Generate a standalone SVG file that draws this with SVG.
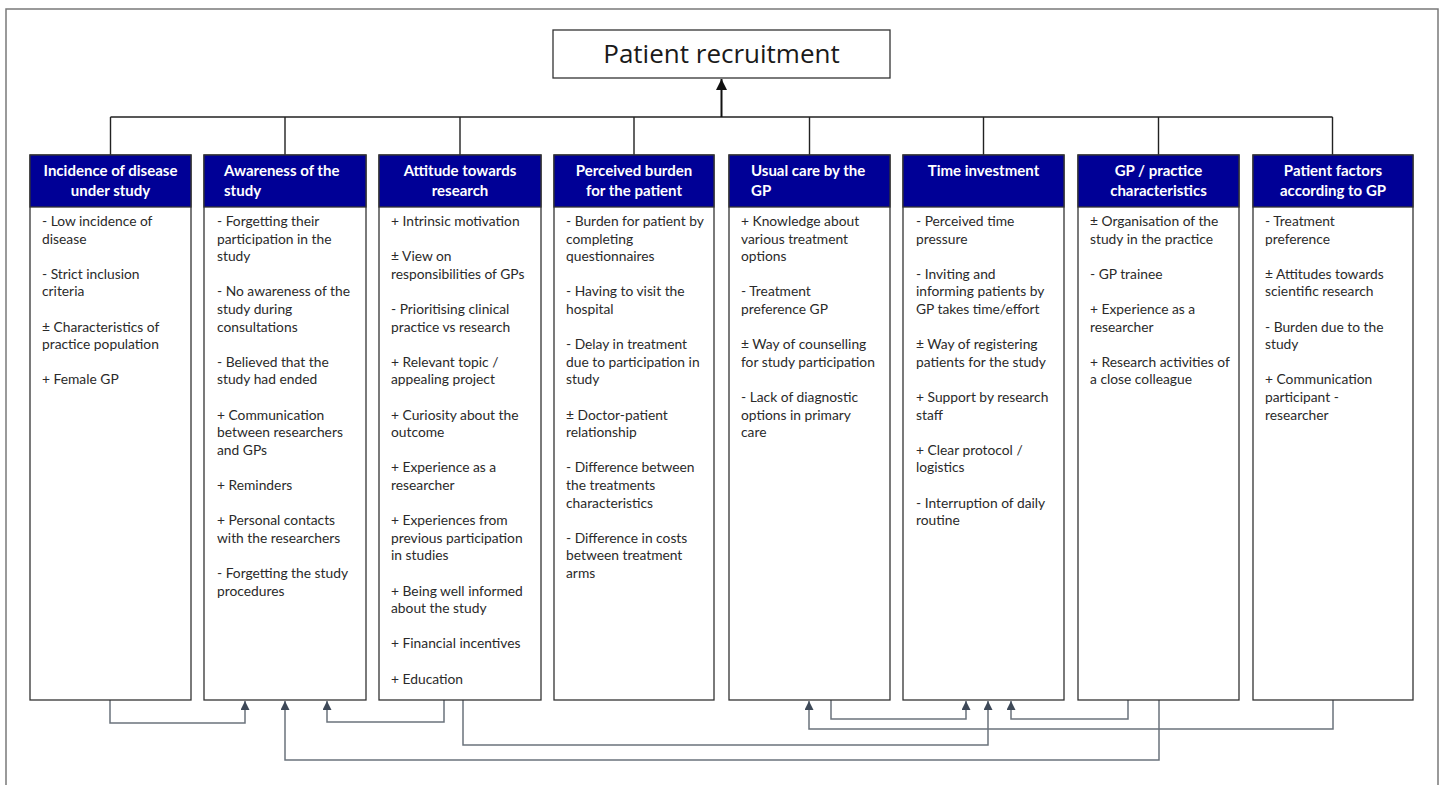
<svg xmlns="http://www.w3.org/2000/svg" width="1444" height="785" viewBox="0 0 1444 785">
<defs>
<style>
.frame{fill:none;stroke:#7a7a7a;stroke-width:1.5}
.box{fill:#fff;stroke:#333;stroke-width:1.3}
.hdr{fill:#000096;stroke:#333;stroke-width:1.3}
.ht{font-family:Lato,"Liberation Sans",sans-serif;font-weight:bold;font-size:15px;fill:#fff}
.bt{font-family:Lato,"Liberation Sans",sans-serif;font-size:13.8px;fill:#2a2a2a}
.title{font-family:"Open Sans","Noto Sans",sans-serif;font-size:26px;fill:#1a1a1a}
.tree{fill:none;stroke:#222;stroke-width:1.4}
.main{fill:none;stroke:#111;stroke-width:2}
.con{fill:none;stroke:#6b737c;stroke-width:1.5}
</style>
<marker id="ah" viewBox="0 0 10 10" refX="10" refY="5" markerWidth="12" markerHeight="11" markerUnits="userSpaceOnUse" orient="auto">
<path d="M0,0 L10,5 L0,10 z" fill="#111"/>
</marker>
<marker id="ag" viewBox="0 0 10 10" refX="10" refY="5" markerWidth="11" markerHeight="9" markerUnits="userSpaceOnUse" orient="auto">
<path d="M0,0 L10,5 L0,10 z" fill="#3e4958"/>
</marker>
</defs>
<rect width="1444" height="785" fill="#fff"/>
<path class="frame" d="M6,790 V9 H1438 V790"/>

<g id="top">
<rect class="box" x="553" y="30" width="337" height="48"/>
<text class="title" x="721.5" y="63" text-anchor="middle">Patient recruitment</text>
</g>

<g id="connectors">
<path class="tree" d="M110.5,117 H1332.5 M110.5,117 V155 M285,117 V155 M460,117 V155 M634,117 V155 M809.5,117 V155 M983.5,117 V155 M1158.5,117 V155 M1332.5,117 V155"/>
<path class="main" d="M721.5,117 V79" marker-end="url(#ah)"/>
<path class="con" d="M110,700 V723 H245 V701" marker-end="url(#ag)"/>
<path class="con" d="M444,700 V722 H327 V701" marker-end="url(#ag)"/>
<path class="con" d="M463,700 V745 H988 V701" marker-end="url(#ag)"/>
<path class="con" d="M1159,700 V760 H285 V701" marker-end="url(#ag)"/>
<path class="con" d="M831,700 V719 H966 V701" marker-end="url(#ag)"/>
<path class="con" d="M1128,700 V719 H1011 V701" marker-end="url(#ag)"/>
<path class="con" d="M1333,700 V729 H809 V701" marker-end="url(#ag)"/>
</g>

<g id="col1">
<rect class="box" x="30" y="155" width="161" height="545"/>
<rect class="hdr" x="30" y="155" width="161" height="52"/>
<text class="ht" text-anchor="middle"><tspan x="110.5" y="176">Incidence  of disease</tspan><tspan x="110.5" y="196">under study</tspan></text>
<text class="bt">
<tspan x="42" y="226">- Low incidence of</tspan><tspan x="42" y="243.6">disease</tspan>
<tspan x="42" y="278.8">- Strict inclusion</tspan><tspan x="42" y="296.4">criteria</tspan>
<tspan x="42" y="331.6">± Characteristics of</tspan><tspan x="42" y="349.2">practice population</tspan>
<tspan x="42" y="384.4">+ Female GP</tspan>
</text>
</g>

<g id="col2">
<rect class="box" x="204" y="155" width="162" height="545"/>
<rect class="hdr" x="204" y="155" width="162" height="52"/>
<text class="ht"><tspan x="224" y="176">Awareness of the</tspan><tspan x="224" y="196">study</tspan></text>
<text class="bt">
<tspan x="217" y="226">- Forgetting their</tspan><tspan x="217" y="243.6">participation in the</tspan><tspan x="217" y="261.2">study</tspan>
<tspan x="217" y="296.4">- No awareness of the</tspan><tspan x="217" y="314">study during</tspan><tspan x="217" y="331.6">consultations</tspan>
<tspan x="217" y="366.8">- Believed that the</tspan><tspan x="217" y="384.4">study had ended</tspan>
<tspan x="217" y="419.6">+ Communication</tspan><tspan x="217" y="437.2">between researchers</tspan><tspan x="217" y="454.8">and GPs</tspan>
<tspan x="217" y="490">+ Reminders</tspan>
<tspan x="217" y="525.2">+ Personal contacts</tspan><tspan x="217" y="542.8">with the researchers</tspan>
<tspan x="217" y="578">- Forgetting the study</tspan><tspan x="217" y="595.6">procedures</tspan>
</text>
</g>

<g id="col3">
<rect class="box" x="379" y="155" width="162" height="545"/>
<rect class="hdr" x="379" y="155" width="162" height="52"/>
<text class="ht" text-anchor="middle"><tspan x="460" y="176">Attitude towards</tspan><tspan x="460" y="196">research</tspan></text>
<text class="bt">
<tspan x="391" y="226">+ Intrinsic motivation</tspan>
<tspan x="391" y="261.2">± View on</tspan><tspan x="391" y="278.8">responsibilities of GPs</tspan>
<tspan x="391" y="314">- Prioritising clinical</tspan><tspan x="391" y="331.6">practice vs research</tspan>
<tspan x="391" y="366.8">+ Relevant topic /</tspan><tspan x="391" y="384.4">appealing project</tspan>
<tspan x="391" y="419.6">+ Curiosity about the</tspan><tspan x="391" y="437.2">outcome</tspan>
<tspan x="391" y="472.4">+ Experience as a</tspan><tspan x="391" y="490">researcher</tspan>
<tspan x="391" y="525.2">+ Experiences from</tspan><tspan x="391" y="542.8">previous participation</tspan><tspan x="391" y="560.4">in studies</tspan>
<tspan x="391" y="595.6">+ Being well informed</tspan><tspan x="391" y="613.2">about the study</tspan>
<tspan x="391" y="648.4">+ Financial incentives</tspan>
<tspan x="391" y="683.6">+ Education</tspan>
</text>
</g>

<g id="col4">
<rect class="box" x="554" y="155" width="160" height="545"/>
<rect class="hdr" x="554" y="155" width="160" height="52"/>
<text class="ht" text-anchor="middle"><tspan x="634" y="176">Perceived burden</tspan><tspan x="634" y="196">for the patient</tspan></text>
<text class="bt">
<tspan x="566" y="226">- Burden for patient by</tspan><tspan x="566" y="243.6">completing</tspan><tspan x="566" y="261.2">questionnaires</tspan>
<tspan x="566" y="296.4">- Having to visit the</tspan><tspan x="566" y="314">hospital</tspan>
<tspan x="566" y="349.2">- Delay in treatment</tspan><tspan x="566" y="366.8">due to participation in</tspan><tspan x="566" y="384.4">study</tspan>
<tspan x="566" y="419.6">±  Doctor-patient</tspan><tspan x="566" y="437.2">relationship</tspan>
<tspan x="566" y="472.4">- Difference between</tspan><tspan x="566" y="490">the treatments</tspan><tspan x="566" y="507.6">characteristics</tspan>
<tspan x="566" y="542.8">- Difference in costs</tspan><tspan x="566" y="560.4">between treatment</tspan><tspan x="566" y="578">arms</tspan>
</text>
</g>

<g id="col5">
<rect class="box" x="729" y="155" width="161" height="545"/>
<rect class="hdr" x="729" y="155" width="161" height="52"/>
<text class="ht"><tspan x="751" y="176">Usual  care by the</tspan><tspan x="751" y="196">GP</tspan></text>
<text class="bt">
<tspan x="741" y="226">+ Knowledge about</tspan><tspan x="741" y="243.6">various treatment</tspan><tspan x="741" y="261.2">options</tspan>
<tspan x="741" y="296.4">- Treatment</tspan><tspan x="741" y="314">preference GP</tspan>
<tspan x="741" y="349.2">±  Way of counselling</tspan><tspan x="741" y="366.8">for study participation</tspan>
<tspan x="741" y="402">- Lack of diagnostic</tspan><tspan x="741" y="419.6">options in primary</tspan><tspan x="741" y="437.2">care</tspan>
</text>
</g>

<g id="col6">
<rect class="box" x="903" y="155" width="161" height="545"/>
<rect class="hdr" x="903" y="155" width="161" height="52"/>
<text class="ht" text-anchor="middle"><tspan x="983.5" y="176">Time investment</tspan></text>
<text class="bt">
<tspan x="916" y="226">- Perceived time</tspan><tspan x="916" y="243.6">pressure</tspan>
<tspan x="916" y="278.8">- Inviting and</tspan><tspan x="916" y="296.4">informing patients by</tspan><tspan x="916" y="314">GP takes time/effort</tspan>
<tspan x="916" y="349.2">±  Way of registering</tspan><tspan x="916" y="366.8">patients for the study</tspan>
<tspan x="916" y="402">+ Support by research</tspan><tspan x="916" y="419.6">staff</tspan>
<tspan x="916" y="454.8">+ Clear protocol /</tspan><tspan x="916" y="472.4">logistics</tspan>
<tspan x="916" y="507.6">- Interruption of daily</tspan><tspan x="916" y="525.2">routine</tspan>
</text>
</g>

<g id="col7">
<rect class="box" x="1078" y="155" width="161" height="545"/>
<rect class="hdr" x="1078" y="155" width="161" height="52"/>
<text class="ht" text-anchor="middle"><tspan x="1158.5" y="176">GP  / practice</tspan><tspan x="1158.5" y="196">characteristics</tspan></text>
<text class="bt">
<tspan x="1090" y="226">±  Organisation of the</tspan><tspan x="1090" y="243.6">study in the practice</tspan>
<tspan x="1090" y="278.8">- GP trainee</tspan>
<tspan x="1090" y="314">+ Experience as a</tspan><tspan x="1090" y="331.6">researcher</tspan>
<tspan x="1090" y="366.8">+ Research activities of</tspan><tspan x="1090" y="384.4">a close colleague</tspan>
</text>
</g>

<g id="col8">
<rect class="box" x="1253" y="155" width="160" height="545"/>
<rect class="hdr" x="1253" y="155" width="160" height="52"/>
<text class="ht" text-anchor="middle"><tspan x="1333" y="176">Patient factors</tspan><tspan x="1333" y="196">according  to GP</tspan></text>
<text class="bt">
<tspan x="1265" y="226">- Treatment</tspan><tspan x="1265" y="243.6">preference</tspan>
<tspan x="1265" y="278.8">±  Attitudes towards</tspan><tspan x="1265" y="296.4">scientific research</tspan>
<tspan x="1265" y="331.6">- Burden due to the</tspan><tspan x="1265" y="349.2">study</tspan>
<tspan x="1265" y="384.4">+ Communication</tspan><tspan x="1265" y="402">participant -</tspan><tspan x="1265" y="419.6">researcher</tspan>
</text>
</g>
</svg>
